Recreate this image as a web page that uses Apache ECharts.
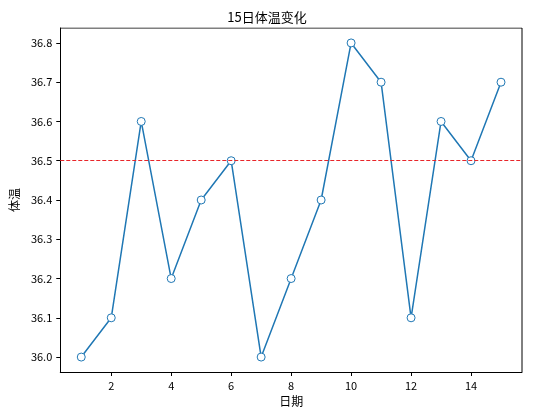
<!DOCTYPE html>
<html><head><meta charset="utf-8">
<script src="https://cdn.jsdelivr.net/npm/echarts@6/dist/echarts.min.js"></script>
<style>html,body{margin:0;padding:0;background:#fff}#c{width:534px;height:420px}</style>
</head><body><div id="c"></div>
<script>
const days=[1,2,3,4,5,6,7,8,9,10,11,12,13,14,15];
const temps=[36.0,36.1,36.6,36.2,36.4,36.5,36.0,36.2,36.4,36.8,36.7,36.1,36.6,36.5,36.7];
const xTicks=[2,4,6,8,10,12,14];
const yTicks=[36.0,36.1,36.2,36.3,36.4,36.5,36.6,36.7,36.8];
const refLine=36.5;
const font='"Noto Sans CJK SC","DejaVu Sans",sans-serif';
const chart=echarts.init(document.getElementById('c'));
chart.setOption({
  animation:false,
  title:{text:'15日体温变化',left:'center',top:6,textStyle:{fontFamily:font,fontSize:13,fontWeight:'normal',color:'#000'}},
  grid:{left:60,right:12,top:28,bottom:48},
  xAxis:{type:'value',min:0.3,max:15.7,name:'日期',nameLocation:'middle',nameGap:22,
    nameTextStyle:{fontFamily:font,fontSize:12,color:'#000'},
    axisLine:{show:true,onZero:false,lineStyle:{color:'#000'}},
    axisTick:{show:true,customValues:xTicks,length:4,inside:false,lineStyle:{color:'#000'}},
    axisLabel:{customValues:xTicks,color:'#000',fontFamily:font,fontSize:11},
    splitLine:{show:false}},
  yAxis:{type:'value',min:35.962,max:36.838,name:'体温',nameLocation:'middle',nameGap:40,
    nameTextStyle:{fontFamily:font,fontSize:12,color:'#000'},
    axisLine:{show:true,lineStyle:{color:'#000'}},
    axisTick:{show:true,customValues:yTicks,length:4,lineStyle:{color:'#000'}},
    axisLabel:{customValues:yTicks,color:'#000',fontFamily:font,fontSize:11,formatter:v=>v.toFixed(1)},
    splitLine:{show:false}},
  series:[
    {type:'line',data:days.map((d,i)=>[d,temps[i]]),symbol:'circle',symbolSize:8,
     lineStyle:{color:'#1f77b4',width:1.5},itemStyle:{color:'#fff',borderColor:'#1f77b4',borderWidth:1},
     markLine:{silent:true,symbol:'none',label:{show:false},lineStyle:{color:'#e8262a',type:[4,2],width:1.2},data:[{yAxis:refLine}]}},
    {type:'line',data:[[0.3,36.838],[15.7,36.838]],symbol:'none',lineStyle:{color:'#000',width:1},silent:true},
    {type:'line',data:[[15.7,35.962],[15.7,36.838]],symbol:'none',lineStyle:{color:'#000',width:1},silent:true}
  ]
});
</script></body></html>
